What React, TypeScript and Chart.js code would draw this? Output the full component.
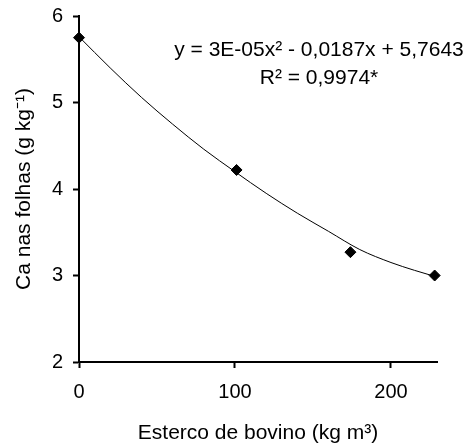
import React, { useEffect, useRef } from "react";
import { Chart, registerables } from "chart.js";

Chart.register(...registerables);

// Observed data points
const doseX = [0, 101, 174, 228];
const caY = [5.75, 4.22, 3.27, 3.0];

// Fitted trend curve
const curveX = [0, 20, 40, 60, 80, 100, 120, 140, 160, 180, 200, 215, 228];
const curveY = [5.76, 5.4, 5.06, 4.75, 4.46, 4.2, 3.95, 3.72, 3.51, 3.3, 3.15, 3.06, 2.99];

// Axis ticks
const xTicks = [0, 100, 200];
const yTicks = [2, 3, 4, 5, 6];

// Texts
const xTitle = "Esterco de bovino (kg m³)";
const yTitle = "Ca nas folhas (g kg⁻¹)";
const annotationLines = ["y = 3E-05x² - 0,0187x + 5,7643", "R² = 0,9974*"];

const FONT = "'Liberation Sans', Arial, sans-serif";

export default function App() {
  const ref = useRef<HTMLCanvasElement>(null);

  useEffect(() => {
    if (!ref.current) return;
    const annotationPlugin = {
      id: "annot",
      afterDraw(chart: any) {
        const ctx = chart.ctx;
        ctx.save();
        ctx.fillStyle = "#000";
        ctx.font = `21px ${FONT}`;
        ctx.textAlign = "center";
        ctx.textBaseline = "middle";
        ctx.fillText(annotationLines[0], 319, 50);
        ctx.fillText(annotationLines[1], 319, 78);
        ctx.restore();
      },
    };

    const chart = new Chart(ref.current, {
      type: "scatter",
      data: {
        datasets: [
          {
            type: "scatter",
            data: doseX.map((x, i) => ({ x, y: caY[i] })),
            pointStyle: "rectRot",
            pointRadius: 5.5,
            backgroundColor: "#000",
            borderColor: "#000",
            borderWidth: 1,
            clip: false,
            order: 0,
          } as any,
          {
            type: "line",
            data: curveX.map((x, i) => ({ x, y: curveY[i] })),
            borderColor: "#000",
            borderWidth: 1,
            pointRadius: 0,
            cubicInterpolationMode: "monotone",
            showLine: true,
            fill: false,
            order: 1,
          } as any,
        ],
      },
      options: {
        responsive: false,
        animation: false,
        layout: { padding: { left: 0, right: 34, top: 16, bottom: 0 } },
        plugins: { legend: { display: false }, tooltip: { enabled: false } },
        scales: {
          x: {
            type: "linear",
            min: 0,
            max: 229.5,
            afterFit(scale: any) {
              scale.height = 86;
              scale.paddingLeft = 0;
              scale.paddingRight = 0;
            },
            afterBuildTicks(scale: any) {
              scale.ticks = xTicks.map((v) => ({ value: v }));
            },
            ticks: {
              color: "#000",
              font: { family: FONT, size: 20 },
              padding: 12,
              maxRotation: 0,
            },
            grid: {
              display: true,
              drawOnChartArea: false,
              drawTicks: true,
              tickLength: 6,
              tickColor: "#000",
              tickWidth: 2,
            },
            border: { display: true, color: "#000", width: 2 },
            title: {
              display: true,
              text: xTitle,
              color: "#000",
              font: { family: FONT, size: 21 },
              padding: { top: 0, bottom: 2 },
            },
          },
          y: {
            type: "linear",
            min: 2,
            max: 6,
            afterFit(scale: any) {
              scale.width = 79;
              scale.paddingTop = 0;
              scale.paddingBottom = 0;
            },
            afterBuildTicks(scale: any) {
              scale.ticks = yTicks.map((v) => ({ value: v }));
            },
            ticks: {
              color: "#000",
              font: { family: FONT, size: 20 },
              padding: 10,
            },
            grid: {
              display: true,
              drawOnChartArea: false,
              drawTicks: true,
              tickLength: 6,
              tickColor: "#000",
              tickWidth: 2,
            },
            border: { display: true, color: "#000", width: 2 },
            title: {
              display: true,
              text: yTitle,
              color: "#000",
              font: { family: FONT, size: 21 },
              padding: { top: 12, bottom: 0 },
            },
          },
        },
      },
      plugins: [annotationPlugin],
    });
    return () => chart.destroy();
  }, []);

  return (
    <div style={{ position: "absolute", left: 0, top: 0, width: 471, height: 448, background: "#fff" }}>
      <canvas ref={ref} width={471} height={448} style={{ display: "block" }} />
    </div>
  );
}
